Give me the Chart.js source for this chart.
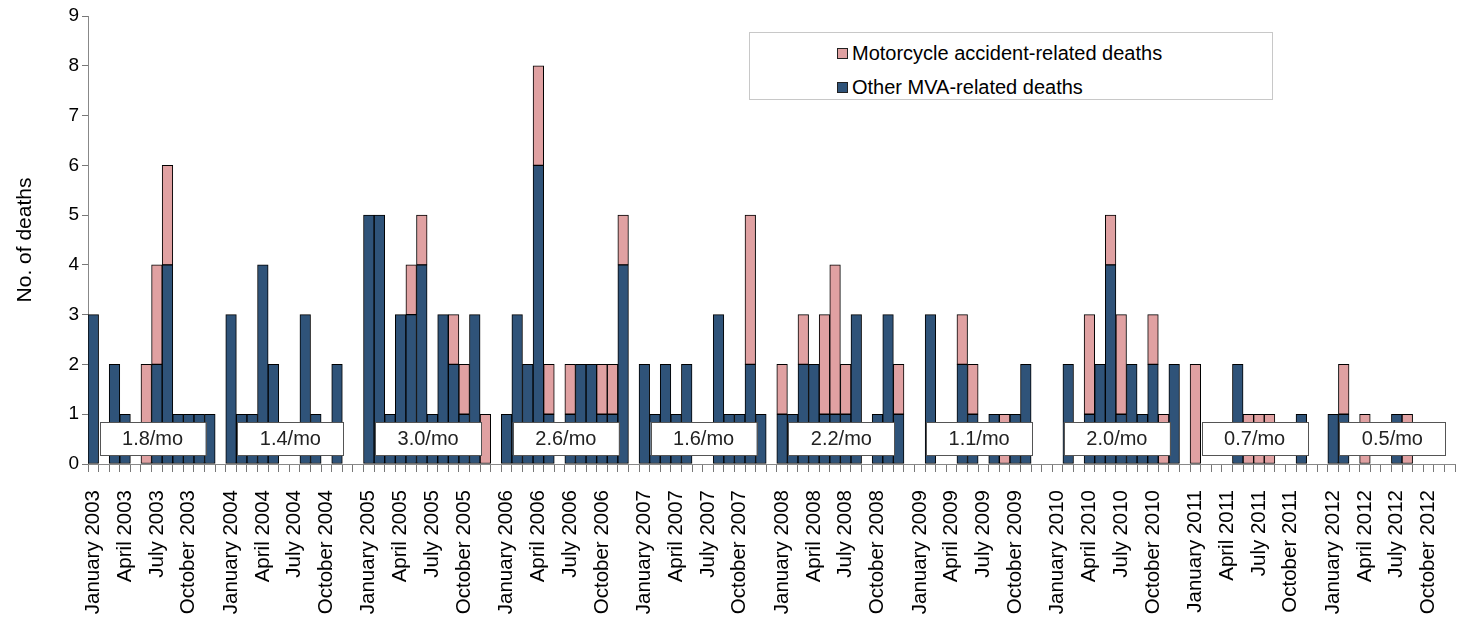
<!DOCTYPE html>
<html>
<head>
<meta charset="utf-8">
<script src="https://cdn.jsdelivr.net/npm/chart.js@4"></script>
<style>
  html, body { margin: 0; padding: 0; background: #fff; }
  #wrap { position: relative; width: 1465px; height: 619px; }
  #legend {
    position: absolute; left: 749px; top: 32px; width: 522px; height: 66px;
    border: 1px solid #c8c8c8; background: #fff;
    font-family: "Liberation Sans", Arial, sans-serif; font-size: 20px; color: #000;
  }
  .item { position: absolute; left: 87px; height: 24px; line-height: 24px; white-space: nowrap; }
  .sw { display: inline-block; width: 9px; height: 9px; border: 1px solid #222; margin-right: 4px; vertical-align: 1px; }
</style>
</head>
<body>
<div id="wrap">
  <canvas id="myChart" width="1465" height="619"></canvas>
  <div id="legend">
    <div class="item" style="top:8px"><span class="sw" style="background:#e0a1a2"></span>Motorcycle accident-related deaths</div>
    <div class="item" style="top:42px"><span class="sw" style="background:#2f5379"></span>Other MVA-related deaths</div>
  </div>
</div>
<script>
var years = [2003, 2004, 2005, 2006, 2007, 2008, 2009, 2010, 2011, 2012];
var monthNames = ["January", "February", "March", "April", "May", "June", "July",
                  "August", "September", "October", "November", "December"];
var rateLabels = ["1.8/mo", "1.4/mo", "3.0/mo", "2.6/mo", "1.6/mo", "2.2/mo", "1.1/mo", "2.0/mo", "0.7/mo", "0.5/mo"];

// Other MVA-related deaths, one row per year (Jan..Dec)
var otherDeaths = [
    3, 0, 2, 1, 0, 0, 2, 4, 1, 1, 1, 1,
    3, 1, 1, 4, 2, 0, 0, 3, 1, 0, 2, 0,
    5, 5, 1, 3, 3, 4, 1, 3, 2, 1, 3, 0,
    1, 3, 2, 6, 1, 0, 1, 2, 2, 1, 1, 4,
    2, 1, 2, 1, 2, 0, 0, 3, 1, 1, 2, 1,
    1, 1, 2, 2, 1, 1, 1, 3, 0, 1, 3, 1,
    0, 3, 0, 0, 2, 1, 0, 1, 0, 1, 2, 0,
    0, 2, 0, 1, 2, 4, 1, 2, 1, 2, 0, 2,
    0, 0, 0, 0, 2, 0, 0, 0, 0, 0, 1, 0,
    1, 1, 0, 0, 0, 0, 1, 0, 0, 0, 0, 0
];
// Motorcycle accident-related deaths
var motoDeaths = [
    0, 0, 0, 0, 0, 2, 2, 2, 0, 0, 0, 0,
    0, 0, 0, 0, 0, 0, 0, 0, 0, 0, 0, 0,
    0, 0, 0, 0, 1, 1, 0, 0, 1, 1, 0, 1,
    0, 0, 0, 2, 1, 0, 1, 0, 0, 1, 1, 1,
    0, 0, 0, 0, 0, 0, 0, 0, 0, 0, 3, 0,
    1, 0, 1, 0, 2, 3, 1, 0, 0, 0, 0, 1,
    0, 0, 0, 0, 1, 1, 0, 0, 1, 0, 0, 0,
    0, 0, 0, 2, 0, 1, 2, 0, 0, 1, 1, 0,
    2, 0, 0, 0, 0, 1, 1, 1, 0, 0, 0, 0,
    0, 1, 0, 1, 0, 0, 0, 1, 0, 0, 0, 0
];

// build categories: 12 months per year plus an empty slot between years
var labels = [];
var otherData = [];
var motoData = [];
for (let y = 0; y < years.length; y++) {
    for (let m = 0; m < 12; m++) {
        let k = y * 12 + m;
        labels.push(monthNames[m] + " " + years[y]);
        otherData.push(otherDeaths[k] || null);
        motoData.push(motoDeaths[k] || null);
    }
    if (y < years.length - 1) {
        labels.push("");
        otherData.push(null);
        motoData.push(null);
    }
}

// white boxes with the monthly rate for each year
var rateBoxes = {
    id: "rateBoxes",
    afterDatasetsDraw(chart) {
        let xs = chart.scales.x, ys = chart.scales.y, c = chart.ctx;
        let slot = xs.getPixelForValue(1) - xs.getPixelForValue(0);
        c.save();
        for (let i = 0; i < years.length; i++) {
            let first = i * 13;
            let cx = (xs.getPixelForValue(first) + xs.getPixelForValue(first + 11)) / 2 + 1;
            let w = slot * 10;
            let top = ys.getPixelForValue(0.84);
            let bottom = ys.getPixelForValue(0.18);
            c.fillStyle = "#fff";
            c.fillRect(cx - w / 2, top, w, bottom - top);
            c.strokeStyle = "#555";
            c.lineWidth = 1;
            c.strokeRect(Math.round(cx - w / 2) + 0.5, Math.round(top) + 0.5, Math.round(w), Math.round(bottom - top));
            c.fillStyle = "#222";
            c.font = "20px 'Liberation Sans', Arial, sans-serif";
            c.textAlign = "center";
            c.textBaseline = "middle";
            c.fillText(rateLabels[i], cx, (top + bottom) / 2 + 1);
        }
        c.restore();
    }
};

var ctx = document.getElementById("myChart");
var myChart = new Chart(ctx, {
    type: "bar",
    data: {
        labels: labels,
        datasets: [{
            label: "Other MVA-related deaths",
            data: otherData,
            backgroundColor: "#2f5379",
            borderColor: "#000",
            borderWidth: 1,
            borderSkipped: false
        }, {
            label: "Motorcycle accident-related deaths",
            data: motoData,
            backgroundColor: "#e0a1a2",
            borderColor: "#000",
            borderWidth: 1,
            borderSkipped: false
        }]
    },
    options: {
        responsive: false,
        animation: false,
        barPercentage: 1,
        categoryPercentage: 1,
        layout: { padding: { top: 16, right: 10, left: 0, bottom: 0 } },
        plugins: {
            legend: { display: false },
            tooltip: { enabled: false }
        },
        scales: {
            x: {
                stacked: true,
                grid: { display: true, drawOnChartArea: false, drawTicks: true, tickLength: 8, color: "#777", offset: true },
                border: { color: "#888" },
                afterFit: function (scale) {
                    scale.paddingRight = 0;
                    scale.paddingLeft = 0;
                    scale.height = 155;
                },
                ticks: {
                    autoSkip: false,
                    maxRotation: 90,
                    minRotation: 90,
                    padding: 18,
                    color: "#000",
                    font: { family: "'Liberation Sans', Arial, sans-serif", size: 20.5 },
                    callback: function (value) {
                        let lab = this.getLabelForValue(value);
                        if (/^(January|April|July|October)/.test(lab)) return lab;
                        return "";
                    }
                }
            },
            y: {
                stacked: true,
                min: 0,
                max: 9,
                grid: { display: true, drawOnChartArea: false, drawTicks: true, tickLength: 6, color: "#777" },
                border: { color: "#888" },
                afterFit: function (scale) {
                    scale.width = 88;
                },
                title: {
                    display: true,
                    text: "No. of deaths",
                    color: "#000",
                    padding: { top: 13, bottom: 4 },
                    font: { family: "'Liberation Sans', Arial, sans-serif", size: 21 }
                },
                ticks: {
                    stepSize: 1,
                    color: "#000",
                    padding: 3,
                    font: { family: "'Liberation Sans', Arial, sans-serif", size: 19 }
                }
            }
        }
    },
    plugins: [rateBoxes]
});
</script>
</body>
</html>
